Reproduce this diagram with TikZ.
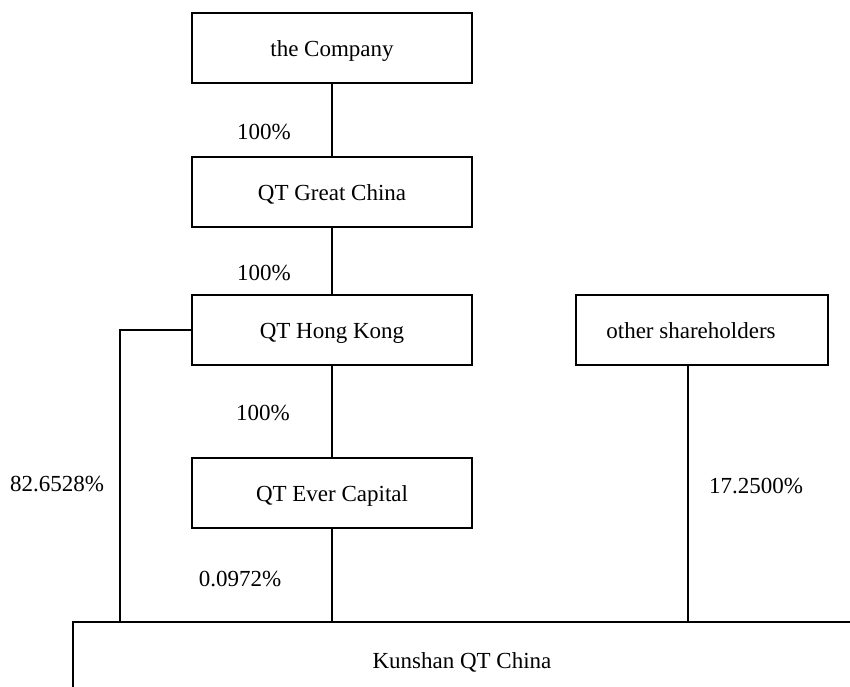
\documentclass[tikz,border=0pt]{standalone}
\usepackage{fontspec}
\setmainfont{Liberation Serif}
\usetikzlibrary{positioning}

\begin{document}
\begin{tikzpicture}[x=1pt, y=-1pt, line width=1.1pt,
		entity/.style={draw, minimum width=280pt, minimum height=70pt, inner sep=0pt, text height=16pt, text depth=0pt, font=\fontsize{23}{27}\selectfont},
		share/.style={font=\fontsize{23}{27}\selectfont}]
			\useasboundingbox (0,0) rectangle (850,686);
			\clip (0,0) rectangle (850,686);
			% boxes
			\node[entity] (company) at (332, 48) {the Company};
			\node[entity] (greatchina) at (332, 192) {QT Great China};
			\node[entity] (hongkong) at (332, 330) {QT Hong Kong};
			\node[entity] (evercap) at (332, 493) {QT Ever Capital};
			\node[entity, minimum width=252pt] (others) at (702, 330) {\hspace*{-22pt}other shareholders};
			\node[entity, minimum width=778pt, minimum height=76pt] (kunshan) at (462, 660) {Kunshan QT China};
			% links
			\coordinate (hkbend) at (120, 330);
			\coordinate (othfoot) at ([xshift=-14pt]others.south);
			\draw (company) -- (greatchina);
			\draw (greatchina) -- (hongkong);
			\draw (hongkong) -- (evercap);
			\draw (evercap) -- (evercap |- kunshan.north);
			\draw (hongkong.west) -- (hkbend) -- (hkbend |- kunshan.north);
			\draw (othfoot) -- (othfoot |- kunshan.north);
			% percentages
			\node[share] (p1) at (264, 132) {100\%};
			\node[share] (p2) at (264, 273) {100\%};
			\node[share] (p3) at (263, 413) {100\%};
			\node[share] (p4) at (57, 484) {82.6528\%};
			\node[share] (p5) at (240, 579) {0.0972\%};
			\node[share] (p6) at (756, 486) {17.2500\%};
			\end{tikzpicture}
\end{document}
